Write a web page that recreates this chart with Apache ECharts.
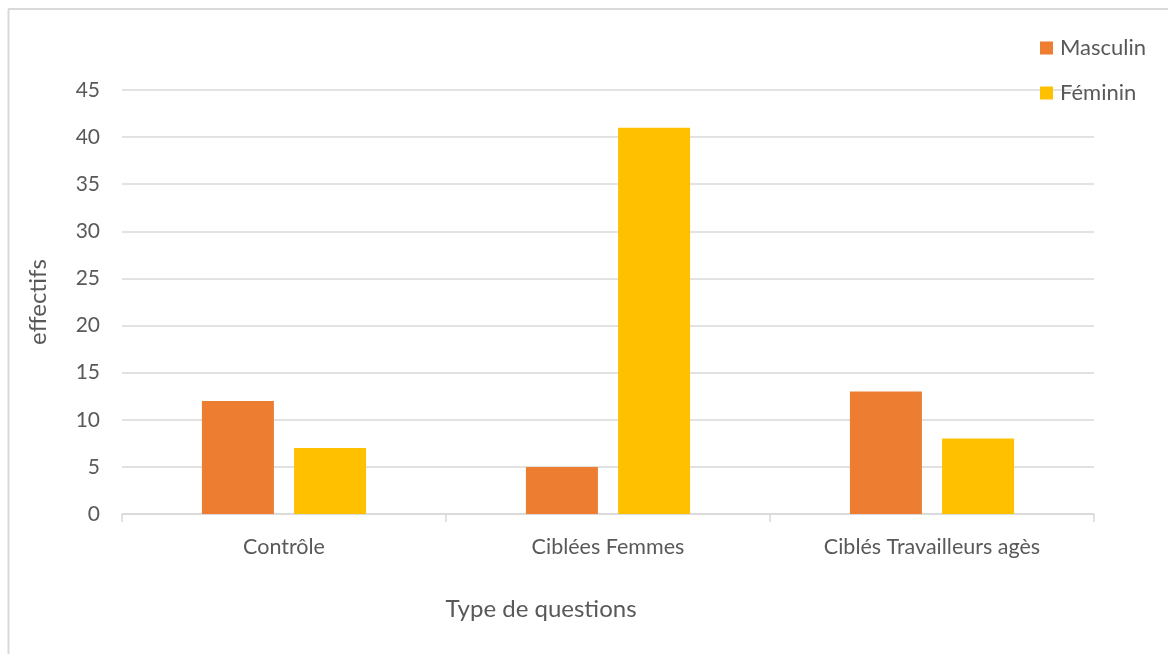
<!DOCTYPE html>
<html>
<head>
<meta charset="utf-8">
<script src="https://cdn.jsdelivr.net/npm/echarts@6/dist/echarts.min.js"></script>
<style>html,body{margin:0;padding:0;background:#fff;}#c{width:1168px;height:654px;}</style>
</head>
<body>
<div id="c"></div>
<script>
const categories = ['Contrôle', 'Ciblées Femmes', 'Ciblés Travailleurs agès'];
const masculin = [12, 5, 13];
const feminin = [7, 41, 8];
const yTicks = [0, 5, 10, 15, 20, 25, 30, 35, 40, 45];
const xTitle = 'Type de questions';
const yTitle = 'effectifs';

const FONT = 'Lato';
const TXT = '#595959';
const chart = echarts.init(document.getElementById('c'));
chart.setOption({
  animation: false,
  textStyle: { fontFamily: FONT },
  graphic: [
    { type: 'line', shape: { x1: 8.5, y1: 9, x2: 8.5, y2: 654 }, style: { stroke: '#d9d9d9', lineWidth: 2 } },
    { type: 'line', shape: { x1: 8, y1: 9, x2: 1168, y2: 9 }, style: { stroke: '#d9d9d9', lineWidth: 2 } },
    { type: 'text', x: 541, y: 609, style: { text: xTitle, fill: TXT, font: '24px Lato', textAlign: 'center', textVerticalAlign: 'middle' } }
  ],
  legend: {
    orient: 'vertical',
    left: 1040,
    top: 37,
    padding: 0,
    itemWidth: 13,
    itemHeight: 13,
    itemGap: 23,
    icon: 'rect',
    textStyle: { color: TXT, fontSize: 22, lineHeight: 22, fontFamily: FONT, padding: [0, 0, 0, 2] },
    data: ['Masculin', 'Féminin']
  },
  grid: { left: 122, right: 74, top: 90, bottom: 140 },
  xAxis: {
    type: 'category',
    data: categories,
    axisLine: { lineStyle: { color: '#d9d9d9', width: 1.5 } },
    axisTick: { show: true, length: 8, lineStyle: { color: '#d9d9d9', width: 1.5 } },
    axisLabel: { color: TXT, fontSize: 21.5, margin: 22, fontFamily: FONT }
  },
  yAxis: {
    type: 'value',
    min: 0,
    max: 45,
    interval: 5,
    name: yTitle,
    nameLocation: 'middle',
    nameGap: 72,
    nameTextStyle: { color: TXT, fontSize: 24, fontFamily: FONT },
    axisLine: { show: false },
    axisTick: { show: false },
    axisLabel: { color: TXT, fontSize: 21, margin: 22, fontFamily: FONT,
      formatter: v => yTicks.includes(v) ? String(v) : '' },
    splitLine: { lineStyle: { color: '#d9d9d9', width: 1.5 } }
  },
  series: [
    { name: 'Masculin', type: 'bar', data: masculin, barWidth: 72, barGap: '28%', itemStyle: { color: '#ED7D31' } },
    { name: 'Féminin', type: 'bar', data: feminin, barWidth: 72, itemStyle: { color: '#FFC000' } }
  ]
});
</script>
</body>
</html>
